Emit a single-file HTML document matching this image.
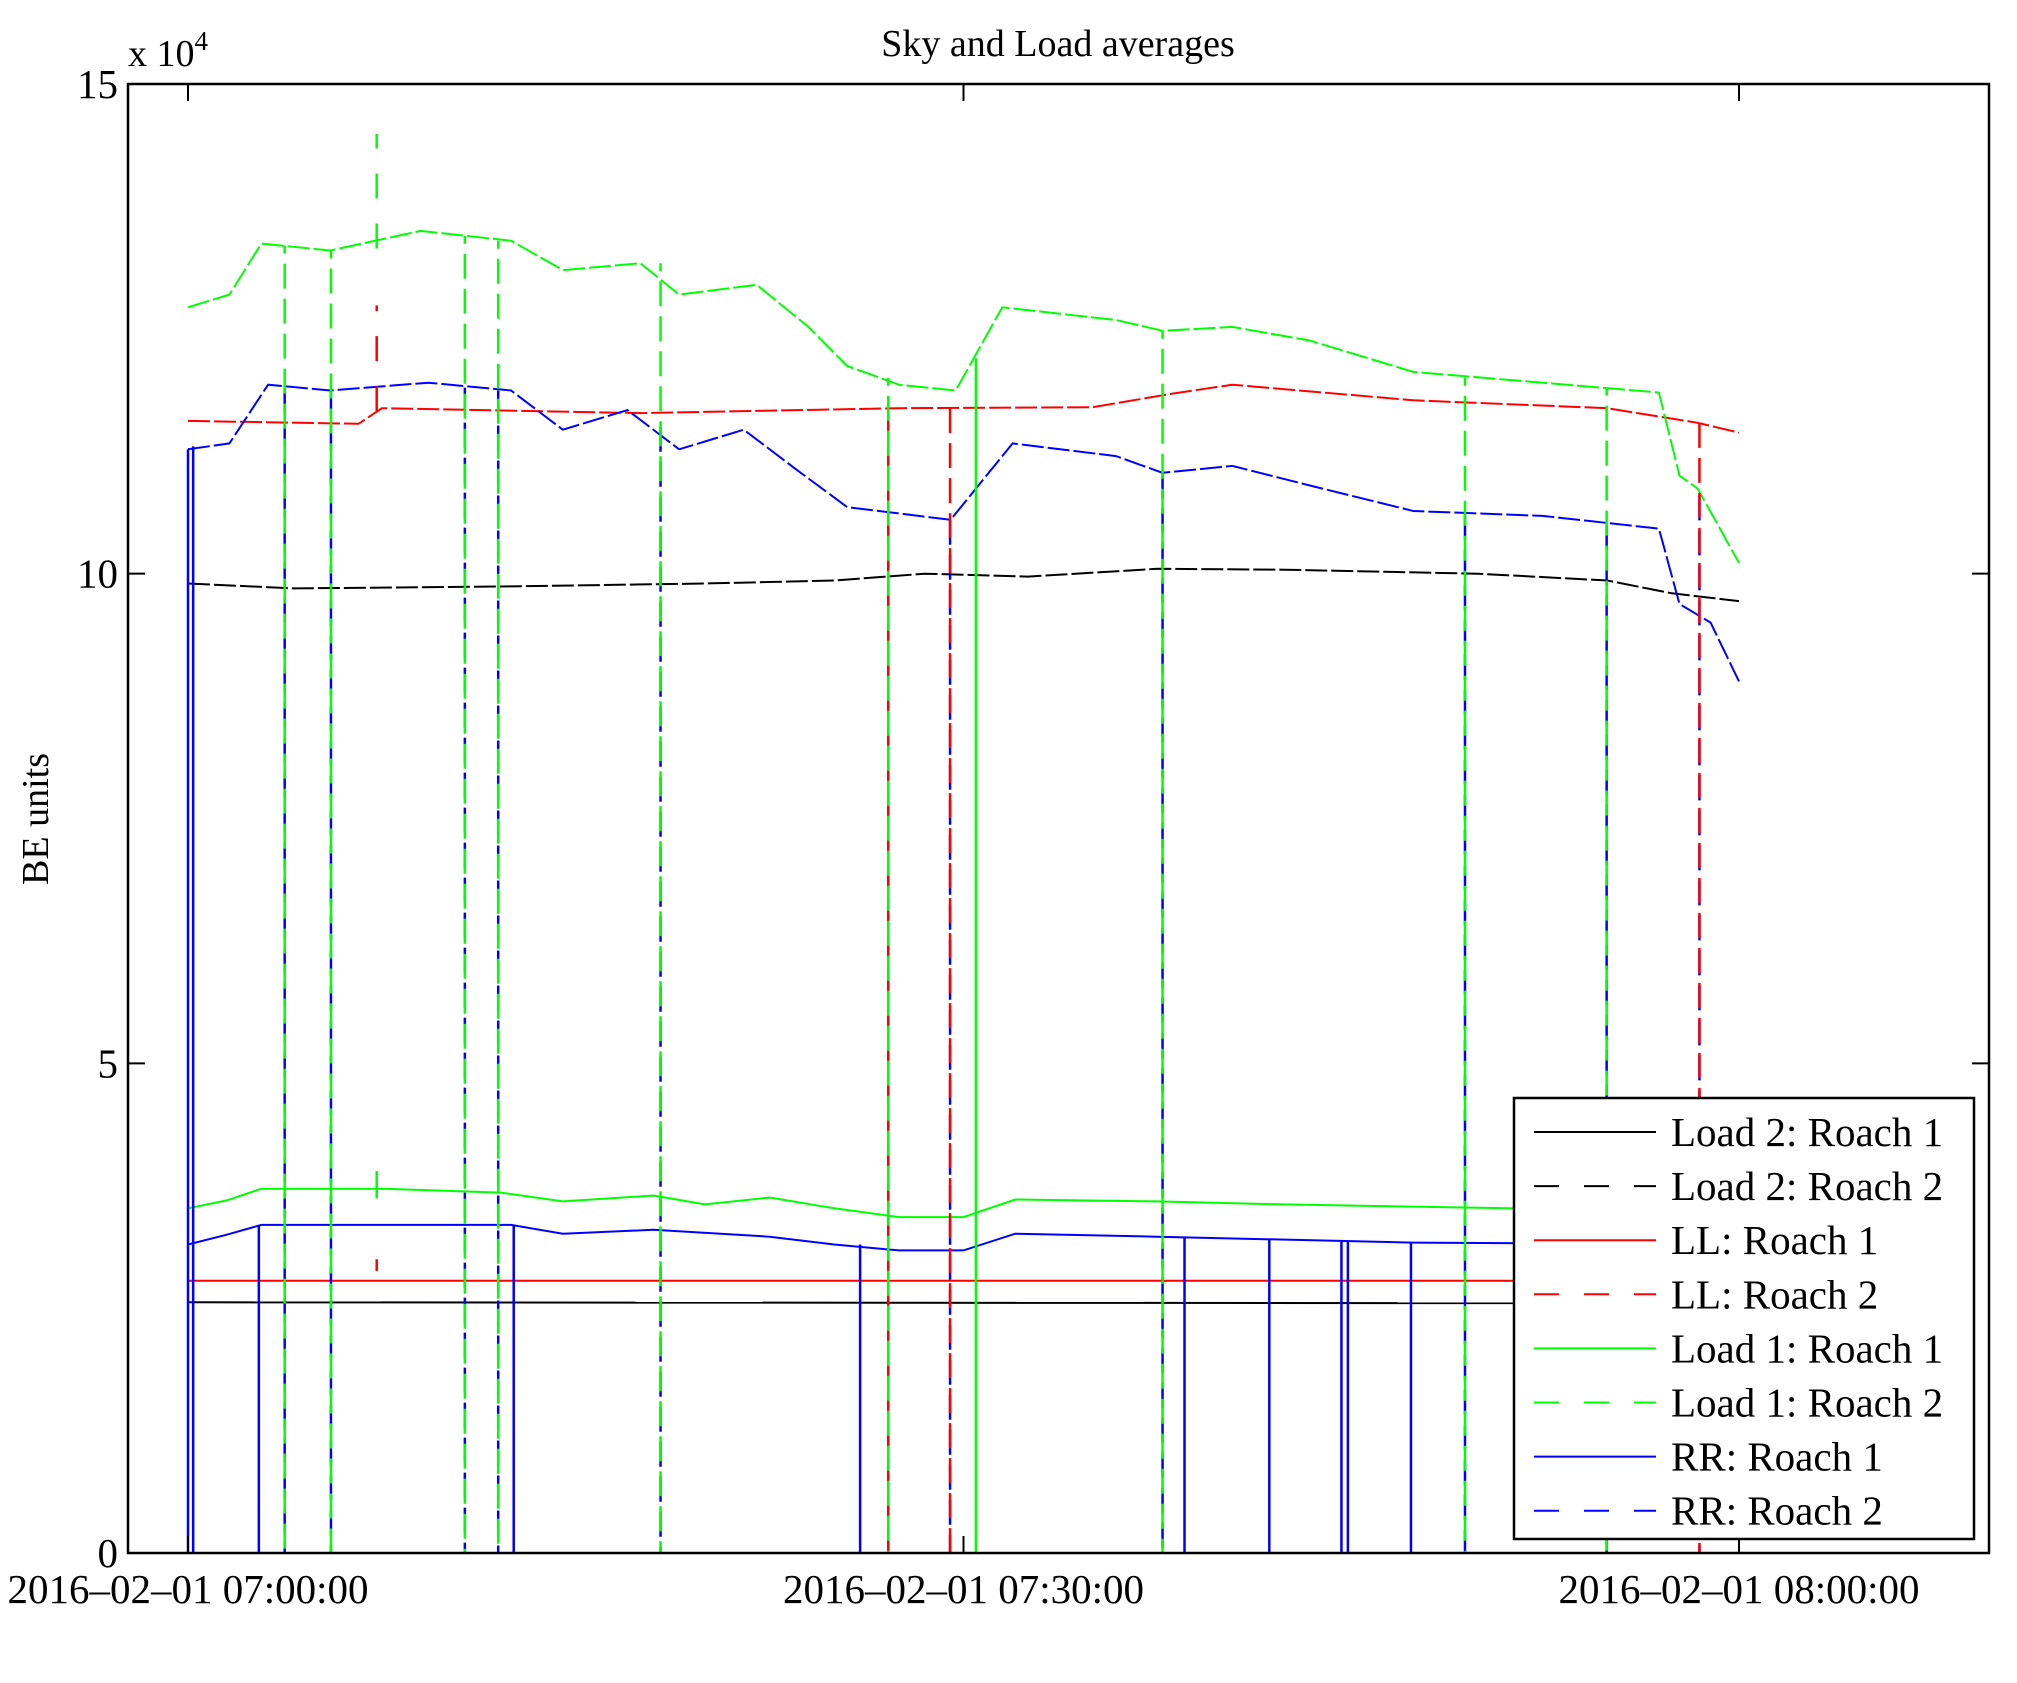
<!DOCTYPE html>
<html><head><meta charset="utf-8"><style>
html,body{margin:0;padding:0;background:#fff;}
svg{display:block;font-family:"Liberation Serif",serif;}
</style></head><body>
<svg id="chart" width="2017" height="1683" viewBox="0 0 2017 1683" xmlns="http://www.w3.org/2000/svg">
<rect x="0" y="0" width="2017" height="1683" fill="#fff"/>
<text x="1058" y="56" font-size="38" text-anchor="middle">Sky and Load averages</text>
<text transform="translate(48,819) rotate(-90)" font-size="38" text-anchor="middle">BE units</text>
<text x="128" y="66" font-size="38">x 10<tspan dy="-16" font-size="27">4</tspan></text>
<g id="series"></g>
<g id="axes"></g>
<g id="legend"></g>
</svg>
<script>
// ---- data (values in units of 1e4, time in minutes after 07:00) ----
const yTicks = [0, 5, 10, 15];
const yTickLabels = ["0", "5", "10", "15"];
const xTicks = [0, 30, 60];
const xTickLabels = ["2016\u201302\u201301 07:00:00", "2016\u201302\u201301 07:30:00", "2016\u201302\u201301 08:00:00"];
const seriesNames = ["Load 2: Roach 1","Load 2: Roach 2","LL: Roach 1","LL: Roach 2","Load 1: Roach 1","Load 1: Roach 2","RR: Roach 1","RR: Roach 2"];
const seriesColors = ["#000","#000","#f00","#f00","#0f0","#0f0","#00f","#00f"];
const seriesDashed = [false,true,false,true,false,true,false,true];

const tLoad2R1 = [0, 60];
const vLoad2R1 = [2.56, 2.55];
const tLoad2R2 = [0, 4.1, 12.5, 20, 25, 28.5, 32.5, 37.5, 42.4, 49.9, 54.9, 57.4, 60];
const vLoad2R2 = [9.9, 9.85, 9.87, 9.9, 9.93, 10.0, 9.97, 10.05, 10.04, 10.0, 9.93, 9.8, 9.72];
const tLLR1 = [0, 60];
const vLLR1 = [2.78, 2.78];
const tLLR2 = [0, 6.6, 7.5, 17.5, 27.5, 35, 37.9, 40.4, 47.4, 54.9, 58.4, 60];
const vLLR2 = [11.56, 11.53, 11.69, 11.64, 11.69, 11.7, 11.83, 11.93, 11.77, 11.69, 11.54, 11.44];
const tLoad1R1 = [0, 1.5, 2.84, 7.6, 12.1, 14.5, 18.0, 20.0, 22.5, 25.0, 27.5, 30.0, 32.0, 37.5, 42.4, 51.1, 60];
const vLoad1R1 = [3.52, 3.6, 3.72, 3.72, 3.68, 3.59, 3.65, 3.56, 3.63, 3.52, 3.43, 3.43, 3.61, 3.59, 3.56, 3.52, 3.5];
const tLoad1R2 = [0, 1.6, 2.84, 5.5, 9.0, 12.5, 14.5, 17.5, 19.0, 22.0, 24.0, 25.5, 27.5, 29.7, 31.5, 35.9, 37.7, 40.4, 43.4, 47.4, 52.4, 56.9, 57.7, 58.4, 60];
const vLoad1R2 = [12.72, 12.85, 13.37, 13.3, 13.5, 13.4, 13.1, 13.17, 12.85, 12.95, 12.52, 12.12, 11.93, 11.87, 12.72, 12.59, 12.48, 12.52, 12.38, 12.06, 11.95, 11.85, 11.0, 10.87, 10.11];
const tRRR1 = [0, 1.5, 2.84, 12.5, 14.5, 18.0, 22.5, 25.0, 27.5, 30.0, 32.0, 37.5, 47.4, 60];
const vRRR1 = [3.15, 3.25, 3.35, 3.35, 3.26, 3.30, 3.23, 3.15, 3.09, 3.09, 3.26, 3.23, 3.17, 3.15];
const tRRR2 = [0, 1.6, 3.1, 5.5, 9.3, 12.5, 14.5, 17.0, 19.0, 21.5, 23.5, 25.5, 29.5, 31.9, 35.9, 37.7, 40.4, 43.4, 47.4, 52.4, 56.9, 57.7, 58.9, 60];
const vRRR2 = [11.27, 11.33, 11.93, 11.87, 11.95, 11.87, 11.47, 11.67, 11.27, 11.47, 11.07, 10.68, 10.55, 11.33, 11.20, 11.03, 11.1, 10.9, 10.64, 10.59, 10.46, 9.69, 9.5, 8.9];

const dropTimes = [0,0.2,2.74,3.74,3.74,5.53,5.53,10.71,10.71,12.0,12.0,12.6,18.28,18.28,26.0,27.09,27.09,27.09,29.48,29.48,30.48,37.7,37.7,38.55,41.83,44.62,44.87,47.31,49.4,49.4,54.88,54.88,58.47,58.47];
const dropSeries = [6,6,6,7,5,7,5,7,5,7,5,6,7,5,6,7,3,5,7,3,4,7,5,6,6,6,6,6,7,5,7,5,7,3];
const dropTopValues = [11.27,11.3,3.35,11.9,13.35,11.87,13.3,11.9,13.45,11.87,13.4,3.35,11.5,13.17,3.15,10.6,11.69,12.0,10.55,11.69,12.2,11.03,12.48,3.23,3.2,3.18,3.18,3.17,10.6,12.0,10.5,11.9,10.8,11.54];
const spikeTimes = [7.3, 7.3, 7.3, 7.3];
const spikeSeries = [5, 3, 4, 2];
const spikeValues = [14.49, 12.74, 3.9, 3.0];

// ---- scales ----
const X0 = 128, X1 = 1989, Y0 = 1553, Y1 = 84;
function xs(t){ return 188 + t * (1739 - 188) / 60; }
function ys(v){ return Y0 - v * (Y0 - Y1) / 15; }
const NS = "http://www.w3.org/2000/svg";
const allT = [tLoad2R1,tLoad2R2,tLLR1,tLLR2,tLoad1R1,tLoad1R2,tRRR1,tRRR2];
const allV = [vLoad2R1,vLoad2R2,vLLR1,vLLR2,vLoad1R1,vLoad1R2,vRRR1,vRRR2];
const gS = document.getElementById('series');
const gA = document.getElementById('axes');
const gL = document.getElementById('legend');
const slug = s => s.toLowerCase().replace(/[^a-z0-9]+/g,'-').replace(/-$/,'');

// series lines
for (let i = 0; i < 8; i++) {
  const p = document.createElementNS(NS, 'polyline');
  p.setAttribute('points', allT[i].map((t,k)=>xs(t).toFixed(1)+','+ys(allV[i][k]).toFixed(1)).join(' '));
  p.setAttribute('fill','none');
  p.setAttribute('stroke', seriesColors[i]);
  p.setAttribute('stroke-width','2');
  if (seriesDashed[i]) p.setAttribute('stroke-dasharray','22,4');
  
  
  gS.appendChild(p);
}
// dropouts
for (let k = 0; k < dropTimes.length; k++) {
  const i = dropSeries[k];
  const l = document.createElementNS(NS, 'line');
  const x = xs(dropTimes[k]);
  l.setAttribute('x1', x); l.setAttribute('x2', x);
  l.setAttribute('y1', ys(dropTopValues[k])); l.setAttribute('y2', ys(0));
  l.setAttribute('stroke', seriesColors[i]);
  l.setAttribute('stroke-width', '2.5');
  if (seriesDashed[i]) {
    l.setAttribute('stroke-dasharray', '25,10');
    if (i === 5) l.setAttribute('stroke-dashoffset', '17');
  }
  
  
  gS.appendChild(l);
}
// spikes
for (let k = 0; k < spikeTimes.length; k++) {
  const i = spikeSeries[k];
  const l = document.createElementNS(NS, 'line');
  const x = xs(spikeTimes[k]);
  l.setAttribute('x1', x); l.setAttribute('x2', x);
  l.setAttribute('y1', ys(allV[i][0] + (i === 5 ? 0.6 : 0.1))); l.setAttribute('y2', ys(spikeValues[k]));
  l.setAttribute('stroke', seriesColors[i]);
  l.setAttribute('stroke-width', '2.5');
  if (seriesDashed[i]) l.setAttribute('stroke-dasharray', '25,25');
  
  
  gS.appendChild(l);
}

// axes box
const box = document.createElementNS(NS, 'rect');
box.setAttribute('x', X0); box.setAttribute('y', Y1);
box.setAttribute('width', X1 - X0); box.setAttribute('height', Y0 - Y1);
box.setAttribute('fill', 'none'); box.setAttribute('stroke', '#000'); box.setAttribute('stroke-width', '2.5');


gA.appendChild(box);
function tick(x1,y1,x2,y2,name){
  const l = document.createElementNS(NS,'line');
  l.setAttribute('x1',x1);l.setAttribute('y1',y1);l.setAttribute('x2',x2);l.setAttribute('y2',y2);
  l.setAttribute('stroke','#000');l.setAttribute('stroke-width','2');
  
  
  gA.appendChild(l);
}
yTicks.forEach((v,k)=>{
  const y = ys(v);
  tick(X0,y,X0+17,y,'y-tick');
  tick(X1,y,X1-17,y,'y-tick-right');
  const t = document.createElementNS(NS,'text');
  t.setAttribute('x', X0-10); t.setAttribute('y', y+14);
  t.setAttribute('font-size','41'); t.setAttribute('text-anchor','end');
  t.textContent = yTickLabels[k];
  
  
  gA.appendChild(t);
});
xTicks.forEach((v,k)=>{
  const x = xs(v);
  tick(x,Y0,x,Y0-17,'x-tick');
  tick(x,Y1,x,Y1+17,'x-tick-top');
  const t = document.createElementNS(NS,'text');
  t.setAttribute('x', x); t.setAttribute('y', 1603);
  t.setAttribute('font-size','41'); t.setAttribute('text-anchor','middle');
  t.textContent = xTickLabels[k];
  
  
  gA.appendChild(t);
});

// legend
const lb = document.createElementNS(NS,'rect');
lb.setAttribute('x',1514);lb.setAttribute('y',1098);lb.setAttribute('width',460);lb.setAttribute('height',441);
lb.setAttribute('fill','#fff');lb.setAttribute('stroke','#000');lb.setAttribute('stroke-width','2.5');


gL.appendChild(lb);
for (let i = 0; i < 8; i++) {
  const y = 1132 + i * 54.1;
  const l = document.createElementNS(NS,'line');
  l.setAttribute('x1',1534);l.setAttribute('x2',1656);l.setAttribute('y1',y);l.setAttribute('y2',y);
  l.setAttribute('stroke',seriesColors[i]);l.setAttribute('stroke-width','2');
  if (seriesDashed[i]) l.setAttribute('stroke-dasharray','25,25');
  
  
  gL.appendChild(l);
  const t = document.createElementNS(NS,'text');
  t.setAttribute('x',1671);t.setAttribute('y',y+14);t.setAttribute('font-size','41');
  t.textContent = seriesNames[i];
  
  
  gL.appendChild(t);
}
</script>
</body></html>
